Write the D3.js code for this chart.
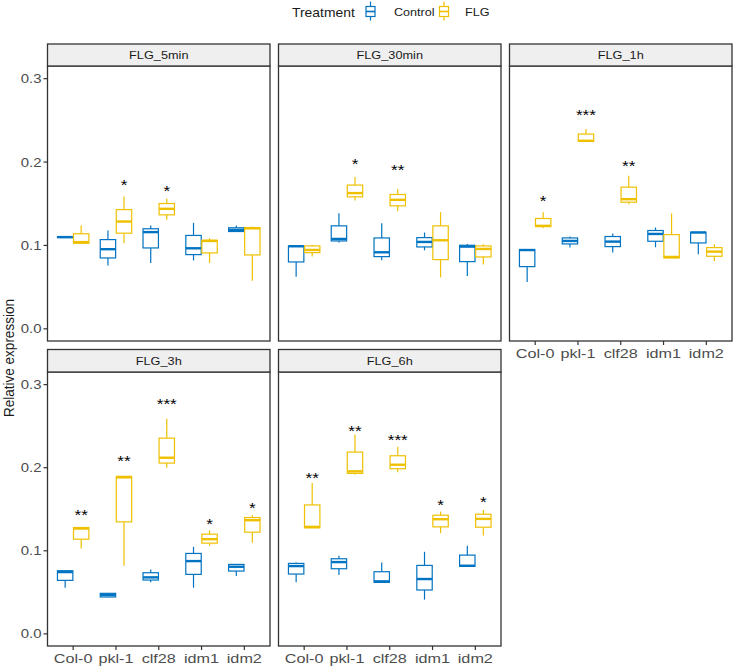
<!DOCTYPE html>
<html>
<head>
<meta charset="utf-8">
<script src="https://cdn.jsdelivr.net/npm/d3@7"></script>
<style>
  html, body { margin: 0; padding: 0; background: #fff; }
  svg { display: block; font-family: "Liberation Sans", Arial, Helvetica, sans-serif; }
</style>
</head>
<body>
<svg id="chart" width="733" height="667"></svg>
<script>
// ---------------- data ----------------
const categories = ["Col-0", "pkl-1", "clf28", "idm1", "idm2"];
const treatments = ["Control", "FLG"];
const panelNames = ["FLG_5min", "FLG_30min", "FLG_1h", "FLG_3h", "FLG_6h"];
const yTicks = [0.0, 0.1, 0.2, 0.3];
const yTickLabels = ["0.0", "0.1", "0.2", "0.3"];
const colors = ["#0073C2", "#EFC000"];

// box stats per category: [lower whisker, Q1, median, Q3, upper whisker]
const control_5min = [
  [0.109, 0.1095, 0.110, 0.1105, 0.111],
  [0.076, 0.085, 0.0955, 0.107, 0.118],
  [0.079, 0.097, 0.116, 0.120, 0.124],
  [0.082, 0.089, 0.0966, 0.112, 0.127],
  [0.1165, 0.1167, 0.1187, 0.1212, 0.124]
];
const flg_5min = [
  [0.1026, 0.1026, 0.104, 0.114, 0.124],
  [0.1026, 0.1147, 0.1287, 0.143, 0.1587],
  [0.1307, 0.1367, 0.1439, 0.1503, 0.1563],
  [0.079, 0.091, 0.1054, 0.1062, 0.1087],
  [0.0577, 0.0886, 0.1205, 0.1214, 0.1226]
];
const control_30min = [
  [0.0625, 0.0802, 0.0990, 0.0994, 0.1000],
  [0.1034, 0.1054, 0.1078, 0.1235, 0.1387],
  [0.0822, 0.0866, 0.0918, 0.109, 0.1267],
  [0.0942, 0.0982, 0.1042, 0.1094, 0.1155],
  [0.0633, 0.0806, 0.0986, 0.1002, 0.1018]
];
const flg_30min = [
  [0.0866, 0.0914, 0.0946, 0.0994, 0.1006],
  [0.1539, 0.1583, 0.1628, 0.1724, 0.182],
  [0.141, 0.1475, 0.1547, 0.1611, 0.1676],
  [0.0617, 0.083, 0.1062, 0.1235, 0.1399],
  [0.077, 0.0862, 0.0958, 0.0994, 0.1014]
];
const control_1h = [
  [0.0561, 0.0746, 0.0945, 0.095, 0.0952],
  [0.0974, 0.1018, 0.1054, 0.109, 0.1107],
  [0.0914, 0.0986, 0.1046, 0.1107, 0.1142],
  [0.0978, 0.105, 0.1138, 0.1179, 0.1215],
  [0.0894, 0.103, 0.1155, 0.1158, 0.1162]
];
const flg_1h = [
  [0.121, 0.1226, 0.1235, 0.1323, 0.1399],
  [0.2248, 0.2248, 0.2255, 0.2336, 0.2396],
  [0.1495, 0.1519, 0.1555, 0.1699, 0.1836],
  [0.0845, 0.085, 0.0862, 0.113, 0.1383],
  [0.081, 0.087, 0.0926, 0.0974, 0.1014]
];
const control_3h = [
  [0.0556, 0.0644, 0.0744, 0.076, 0.0768],
  [0.0440, 0.0444, 0.0468, 0.0488, 0.0492],
  [0.062, 0.0648, 0.068, 0.0736, 0.0776],
  [0.0556, 0.0716, 0.0876, 0.0968, 0.1048],
  [0.0696, 0.0756, 0.0808, 0.0836, 0.0836]
];
const flg_3h = [
  [0.1028, 0.114, 0.1268, 0.128, 0.128],
  [0.082, 0.1348, 0.1884, 0.1896, 0.1896],
  [0.200, 0.2056, 0.212, 0.2356, 0.2588],
  [0.106, 0.1092, 0.114, 0.120, 0.1244],
  [0.1096, 0.1224, 0.1368, 0.140, 0.1428]
];
const control_6h = [
  [0.062, 0.072, 0.0816, 0.0848, 0.086],
  [0.0708, 0.0784, 0.0864, 0.0904, 0.094],
  [0.0615, 0.062, 0.0632, 0.0748, 0.086],
  [0.0412, 0.0528, 0.066, 0.0824, 0.0988],
  [0.0808, 0.0812, 0.082, 0.0948, 0.106]
];
const flg_6h = [
  [0.1276, 0.1276, 0.1288, 0.1552, 0.1816],
  [0.1916, 0.1932, 0.1956, 0.2188, 0.24],
  [0.1944, 0.1988, 0.2036, 0.2144, 0.2252],
  [0.1212, 0.1288, 0.138, 0.1428, 0.1472],
  [0.1184, 0.1284, 0.1384, 0.144, 0.1492]
];

// significance labels above FLG boxes: [category, label, y value]
const stars_5min = [["pkl-1", "*", 0.1767], ["clf28", "*", 0.170]];
const stars_30min = [["pkl-1", "*", 0.2028], ["clf28", "**", 0.1956]];
const stars_1h = [["Col-0", "*", 0.158], ["pkl-1", "***", 0.2609], ["clf28", "**", 0.200]];
const stars_3h = [["Col-0", "**", 0.1476], ["pkl-1", "**", 0.2128], ["clf28", "***", 0.2816], ["idm1", "*", 0.1376], ["idm2", "*", 0.156]];
const stars_6h = [["Col-0", "**", 0.192], ["pkl-1", "**", 0.2488], ["clf28", "***", 0.2376], ["idm1", "*", 0.1604], ["idm2", "*", 0.1632]];

const panelData = [
  { name: panelNames[0], series: [control_5min, flg_5min], stars: stars_5min },
  { name: panelNames[1], series: [control_30min, flg_30min], stars: stars_30min },
  { name: panelNames[2], series: [control_1h, flg_1h], stars: stars_1h },
  { name: panelNames[3], series: [control_3h, flg_3h], stars: stars_3h },
  { name: panelNames[4], series: [control_6h, flg_6h], stars: stars_6h }
];

// ---------------- layout ----------------
const SX = 1.18; // horizontal glyph stretch seen in the reference
const colX = [47.5, 278.5, 509.5];
const panelW = 222.5;
const rows = [
  { stripTop: 44, top: 66, bottom: 341 },
  { stripTop: 349.5, top: 372, bottom: 646 }
];
const yDomain = [-0.0146, 0.3152];
const layout = [
  { row: 0, col: 0, yAxis: true, xAxis: false },
  { row: 0, col: 1, yAxis: false, xAxis: false },
  { row: 0, col: 2, yAxis: false, xAxis: true },
  { row: 1, col: 0, yAxis: true, xAxis: true },
  { row: 1, col: 1, yAxis: false, xAxis: true }
];

const svg = d3.select("#chart");

function stext(g, x, y, str, size, opts = {}) {
  const t = g.append("text")
    .attr("transform", `translate(${x},${y}) scale(${opts.sx || SX},1)`)
    .attr("font-size", size)
    .attr("fill", opts.fill || "#1A1A1A")
    .attr("text-anchor", opts.anchor || "middle")
    .text(str);
  if (opts.weight) t.attr("font-weight", opts.weight);
  return t;
}

panelData.forEach((p, i) => {
  const L = layout[i];
  const R = rows[L.row];
  const x0 = colX[L.col];
  const g = svg.append("g");

  const x = d3.scalePoint().domain(categories).range([x0, x0 + panelW]).padding(0.6);
  const step = x.step();
  const y = d3.scaleLinear().domain(yDomain).range([R.bottom, R.top]);

  g.append("rect").attr("x", x0).attr("y", R.top).attr("width", panelW).attr("height", R.bottom - R.top)
    .attr("fill", "#fff");

  // boxes
  const off = [-0.1875 * step, 0.1875 * step];
  const bw = 0.36 * step;
  p.series.forEach((ser, s) => {
    ser.forEach((st, c) => {
      const cx = x(categories[c]) + off[s];
      const col = colors[s];
      const bg = g.append("g");
      bg.append("line").attr("x1", cx).attr("x2", cx).attr("y1", y(st[4])).attr("y2", y(st[3]))
        .attr("stroke", col).attr("stroke-width", 1.2);
      bg.append("line").attr("x1", cx).attr("x2", cx).attr("y1", y(st[1])).attr("y2", y(st[0]))
        .attr("stroke", col).attr("stroke-width", 1.2);
      bg.append("rect").attr("x", cx - bw / 2).attr("y", y(st[3])).attr("width", bw)
        .attr("height", Math.max(0.01, y(st[1]) - y(st[3])))
        .attr("fill", "#fff").attr("stroke", col).attr("stroke-width", 1.2);
      bg.append("line").attr("x1", cx - bw / 2).attr("x2", cx + bw / 2).attr("y1", y(st[2])).attr("y2", y(st[2]))
        .attr("stroke", col).attr("stroke-width", 2.4);
    });
  });

  // significance stars
  p.stars.forEach(([cat, lab, v]) => {
    const cx = x(cat) + off[1];
    stext(g, cx, y(v) + 9, lab, 15, { fill: "#000", sx: 1.15 });
  });

  // panel border
  g.append("rect").attr("x", x0).attr("y", R.top).attr("width", panelW).attr("height", R.bottom - R.top)
    .attr("fill", "none").attr("stroke", "#333").attr("stroke-width", 1.3);

  // strip
  g.append("rect").attr("x", x0).attr("y", R.stripTop).attr("width", panelW).attr("height", R.top - R.stripTop)
    .attr("fill", "#EFEFEF").attr("stroke", "#333").attr("stroke-width", 1.3);
  stext(g, x0 + panelW / 2, (R.stripTop + R.top) / 2 + 4, p.name, 10.8, { fill: "#1A1A1A", sx: 1.18 });

  // y axis
  if (L.yAxis) {
    yTicks.forEach((t, k) => {
      g.append("line").attr("x1", x0 - 4).attr("x2", x0).attr("y1", y(t)).attr("y2", y(t))
        .attr("stroke", "#333").attr("stroke-width", 1.2);
      stext(g, x0 - 6, y(t) + 4.5, yTickLabels[k], 13, { anchor: "end", fill: "#4D4D4D", sx: 1.15 });
    });
  }
  // x axis
  if (L.xAxis) {
    categories.forEach(c => {
      g.append("line").attr("x1", x(c)).attr("x2", x(c)).attr("y1", R.bottom).attr("y2", R.bottom + 4)
        .attr("stroke", "#333").attr("stroke-width", 1.2);
      stext(g, x(c), R.bottom + 17, c, 13.5, { fill: "#4D4D4D", sx: 1.2 });
    });
  }
});

// y axis title
svg.append("text")
  .attr("transform", `translate(14,358) rotate(-90) scale(1,1.1)`)
  .attr("font-size", 13.5)
  .attr("fill", "#1A1A1A")
  .attr("text-anchor", "middle")
  .text("Relative expression");

// legend
const lg = svg.append("g");
stext(lg, 292, 17, "Treatment", 13, { anchor: "start", sx: 1.07 });
const keyX = [370.5, 444];
const labX = [394, 465];
treatments.forEach((t, s) => {
  const cx = keyX[s];
  const col = colors[s];
  lg.append("line").attr("x1", cx).attr("x2", cx).attr("y1", 1.5).attr("y2", 20.5).attr("stroke", col).attr("stroke-width", 1.2);
  lg.append("rect").attr("x", cx - 4.5).attr("y", 6.5).attr("width", 9).attr("height", 10)
    .attr("fill", "#fff").attr("stroke", col).attr("stroke-width", 1.2);
  lg.append("line").attr("x1", cx - 4.5).attr("x2", cx + 4.5).attr("y1", 11.5).attr("y2", 11.5).attr("stroke", col).attr("stroke-width", 1.6);
  stext(lg, labX[s], 16, t, 10.5, { anchor: "start", sx: 1.2 });
});
</script>
</body>
</html>
